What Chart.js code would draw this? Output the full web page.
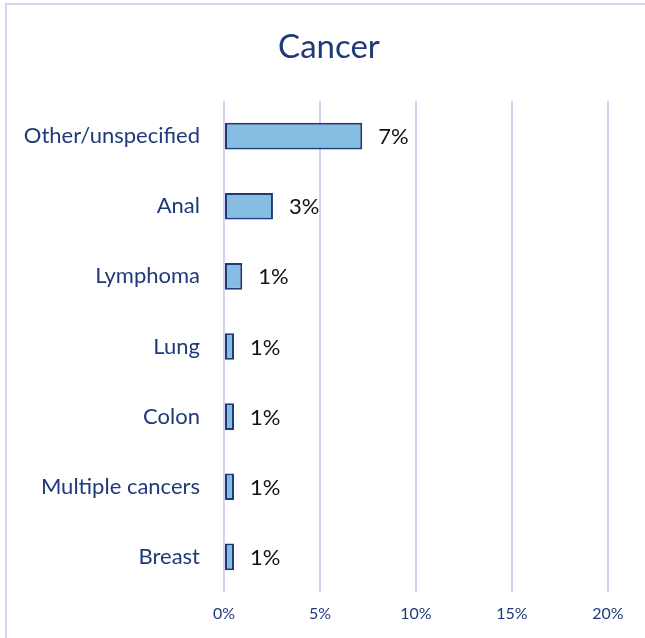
<!DOCTYPE html>
<html>
<head>
<meta charset="utf-8">
<script src="https://cdn.jsdelivr.net/npm/chart.js@4"></script>
<style>
  html, body { margin: 0; padding: 0; background: #fff; }
  #wrap { position: relative; width: 645px; height: 638px; overflow: hidden; }
  #frame {
    position: absolute; left: 5px; top: 3px; width: 700px; height: 700px;
    border-left: 2px solid #d7d3f1; border-top: 2px solid #d7d3f1;
  }
  #chart { position: absolute; left: 0; top: 0; }
</style>
</head>
<body>
<div id="wrap">
  <div id="frame"></div>
  <canvas id="chart" width="645" height="638"></canvas>
</div>
<script>
  const chartTitle = "Cancer";
  const categories = ["Other/unspecified", "Anal", "Lymphoma", "Lung", "Colon", "Multiple cancers", "Breast"];
  const values = [7.2, 2.55, 0.95, 0.52, 0.52, 0.52, 0.52];
  const xTicks = [0, 5, 10, 15, 20];

  const navy = "#1f3a78";
  const fontFamily = "Lato, 'Open Sans', sans-serif";

  // the title sits centred on the whole (wider) chart box, not on the canvas
  const titleText = {
    id: "titleText",
    afterDraw(chart) {
      const ctx = chart.ctx;
      ctx.save();
      ctx.font = `33px ${fontFamily}`;
      ctx.fillStyle = navy;
      ctx.textAlign = "center";
      ctx.textBaseline = "middle";
      ctx.fillText(chartTitle, 329, 47);
      ctx.restore();
    }
  };

  // draws the "7%" style labels to the right of each bar
  const barLabels = {
    id: "barLabels",
    afterDatasetsDraw(chart) {
      const ctx = chart.ctx;
      const meta = chart.getDatasetMeta(0);
      ctx.save();
      ctx.font = `22px ${fontFamily}`;
      ctx.fillStyle = "#111";
      ctx.textAlign = "left";
      ctx.textBaseline = "middle";
      meta.data.forEach((bar, i) => {
        ctx.fillText(`${Math.round(values[i])}%`, bar.x + 16, bar.y + 1);
      });
      ctx.restore();
    }
  };

  new Chart(document.getElementById("chart"), {
    type: "bar",
    data: {
      labels: categories,
      datasets: [{
        data: values,
        backgroundColor: "#85bde3",
        borderColor: navy,
        borderWidth: 2,
        borderSkipped: false,
        barPercentage: 0.38,
        categoryPercentage: 1
      }]
    },
    options: {
      indexAxis: "y",
      responsive: false,
      animation: false,
      layout: { padding: { left: 0, right: 37, top: 101, bottom: 0 } },
      plugins: {
        legend: { display: false },
        tooltip: { enabled: false },
        title: { display: false }
      },
      scales: {
        x: {
          min: 0,
          max: 20,
          afterBuildTicks: (scale) => { scale.ticks = xTicks.map((v) => ({ value: v })); },
          afterFit: (scale) => { scale.height = 46; },
          grid: { color: "#d7d3f1", lineWidth: 2, drawTicks: false },
          border: { display: false },
          ticks: {
            padding: 12,
            color: navy,
            font: { family: fontFamily, size: 16 },
            callback: (v) => `${v}%`
          }
        },
        y: {
          afterFit: (scale) => { scale.width = 224; },
          grid: { display: false },
          border: { display: false },
          ticks: {
            padding: 16,
            color: navy,
            font: { family: fontFamily, size: 22 }
          }
        }
      }
    },
    plugins: [barLabels, titleText]
  });
</script>
</body>
</html>
